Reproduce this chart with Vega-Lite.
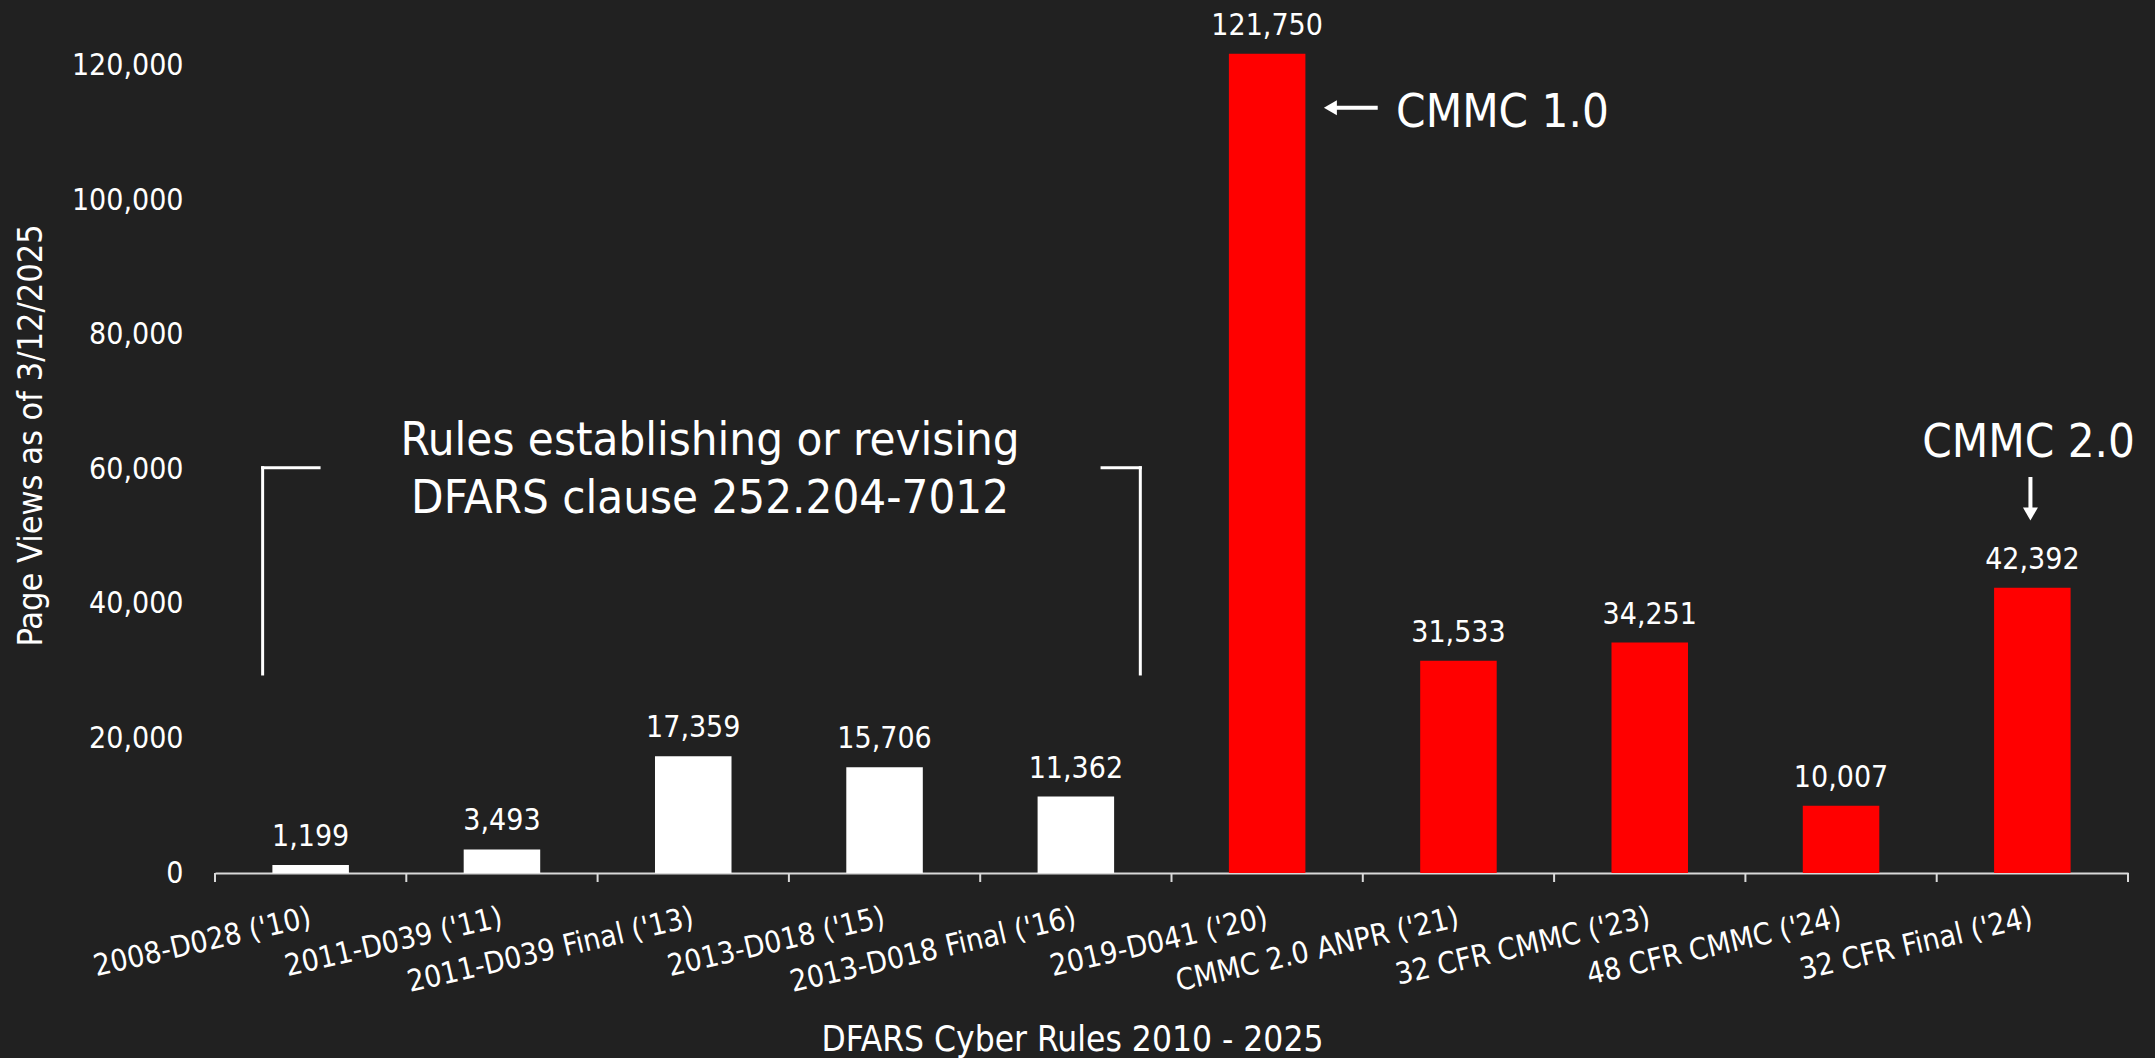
{
  "$schema": "https://vega.github.io/schema/vega-lite/v6.json",
  "width": 1913,
  "height": 841,
  "autosize": {"type": "none"},
  "padding": {"left": 215, "top": 32, "right": 27, "bottom": 185},
  "background": "#212121",
  "config": {"view": {"stroke": null}, "font": "DejaVu Sans Condensed, DejaVu Sans"},
  "datasets": {
    "bars": [
      {"rule": "2008-D028 ('10)", "views": 1199, "group": "DFARS"},
      {"rule": "2011-D039 ('11)", "views": 3493, "group": "DFARS"},
      {"rule": "2011-D039 Final ('13)", "views": 17359, "group": "DFARS"},
      {"rule": "2013-D018 ('15)", "views": 15706, "group": "DFARS"},
      {"rule": "2013-D018 Final ('16)", "views": 11362, "group": "DFARS"},
      {"rule": "2019-D041 ('20)", "views": 121750, "group": "CMMC"},
      {"rule": "CMMC 2.0 ANPR ('21)", "views": 31533, "group": "CMMC"},
      {"rule": "32 CFR CMMC ('23)", "views": 34251, "group": "CMMC"},
      {"rule": "48 CFR CMMC ('24)", "views": 10007, "group": "CMMC"},
      {"rule": "32 CFR Final ('24)", "views": 42392, "group": "CMMC"}
    ],
    "ticks": [
      {"x": 0}, {"x": 1}, {"x": 2}, {"x": 3}, {"x": 4}, {"x": 5},
      {"x": 6}, {"x": 7}, {"x": 8}, {"x": 9}, {"x": 10}
    ],
    "bracket": [
      {"x": 0.249, "x2": 0.249, "y": 29580, "y2": 60240},
      {"x": 0.249, "x2": 0.544, "y": 60240, "y2": 60240},
      {"x": 4.637, "x2": 4.837, "y": 60240, "y2": 60240},
      {"x": 4.837, "x2": 4.837, "y": 29580, "y2": 60240}
    ],
    "arrows": [
      {"x": 5.84, "x2": 6.078, "y": 113750, "y2": 113750},
      {"x": 9.49, "x2": 9.49, "y": 53650, "y2": 58860}
    ],
    "heads": [
      {"x": 5.8306, "y": 113750, "dir": "left"},
      {"x": 9.49, "y": 53359, "dir": "down"}
    ],
    "notes": [
      {"x": 6.73, "y": 110880, "note": "CMMC 1.0"},
      {"x": 9.48, "y": 61830, "note": "CMMC 2.0"},
      {"x": 2.588, "y": 62130, "note": "Rules establishing or revising\nDFARS clause 252.204-7012"}
    ]
  },
  "resolve": {"scale": {"x": "independent"}, "axis": {"x": "independent", "y": "independent"}},
  "layer": [
    {
      "data": {"name": "bars"},
      "mark": {"type": "bar"},
      "encoding": {
        "x": {
          "field": "rule", "type": "nominal", "sort": null,
          "scale": {"paddingInner": 0.6, "paddingOuter": 0.3},
          "axis": {
            "title": "DFARS Cyber Rules 2010 - 2025",
            "titleFontSize": 35, "titleFontWeight": "normal", "titleColor": "#ffffff",
            "titleX": 857, "titleY": 177, "titleAlign": "center", "titleBaseline": "alphabetic",
            "labelAngle": -13, "labelAlign": "right", "labelBaseline": "middle",
            "labelPadding": 44, "labelFontSize": 30, "labelColor": "#ffffff",
            "labelLimit": 0, "labelOverlap": false, "labelFlush": false,
            "domainColor": "#d9d9d9", "domainWidth": 2,
            "ticks": false,
            "grid": false
          }
        },
        "y": {
          "field": "views", "type": "quantitative",
          "scale": {"domain": [0, 125000], "nice": false},
          "axis": {
            "title": "Page Views as of 3/12/2025",
            "titleFontSize": 34, "titleFontWeight": "normal", "titleColor": "#ffffff",
            "titleX": -184, "titleY": 403, "titleAlign": "center", "titleBaseline": "middle", "titleAngle": -90,
            "values": [0, 20000, 40000, 60000, 80000, 100000, 120000],
            "format": ",d", "labelFontSize": 30, "labelColor": "#ffffff", "labelPadding": 32,
            "ticks": false, "domain": false, "grid": false
          }
        },
        "color": {
          "field": "group", "type": "nominal",
          "scale": {"domain": ["DFARS", "CMMC"], "range": ["#ffffff", "#ff0000"]},
          "legend": null
        }
      }
    },
    {
      "data": {"name": "bars"},
      "mark": {"type": "text", "baseline": "alphabetic", "align": "center", "dy": -19, "fontSize": 30, "color": "#ffffff"},
      "encoding": {
        "x": {"field": "rule", "type": "nominal", "sort": null, "scale": {"paddingInner": 0.6, "paddingOuter": 0.3}, "axis": null},
        "y": {"field": "views", "type": "quantitative", "scale": {"domain": [0, 125000], "nice": false}, "axis": null},
        "text": {"field": "views", "type": "quantitative", "format": ",d"}
      }
    },
    {
      "data": {"name": "ticks"},
      "mark": {"type": "rule", "color": "#d9d9d9", "strokeWidth": 2},
      "encoding": {
        "x": {"field": "x", "type": "quantitative", "scale": {"domain": [0, 10], "nice": false, "zero": false}, "axis": null},
        "y": {"datum": 0, "type": "quantitative", "scale": {"domain": [0, 125000], "nice": false}, "axis": null},
        "y2": {"datum": -1338}
      }
    },
    {
      "data": {"name": "bracket"},
      "mark": {"type": "rule", "color": "#ffffff", "strokeWidth": 3, "strokeCap": "square"},
      "encoding": {
        "x": {"field": "x", "type": "quantitative", "scale": {"domain": [0, 10], "nice": false, "zero": false}, "axis": null},
        "x2": {"field": "x2"},
        "y": {"field": "y", "type": "quantitative", "scale": {"domain": [0, 125000], "nice": false}, "axis": null},
        "y2": {"field": "y2"}
      }
    },
    {
      "data": {"name": "arrows"},
      "mark": {"type": "rule", "color": "#ffffff", "strokeWidth": 4},
      "encoding": {
        "x": {"field": "x", "type": "quantitative", "scale": {"domain": [0, 10], "nice": false, "zero": false}, "axis": null},
        "x2": {"field": "x2"},
        "y": {"field": "y", "type": "quantitative", "scale": {"domain": [0, 125000], "nice": false}, "axis": null},
        "y2": {"field": "y2"}
      }
    },
    {
      "data": {"name": "heads"},
      "mark": {"type": "point", "filled": true, "color": "#ffffff", "opacity": 1, "size": 225},
      "encoding": {
        "x": {"field": "x", "type": "quantitative", "scale": {"domain": [0, 10], "nice": false, "zero": false}, "axis": null},
        "y": {"field": "y", "type": "quantitative", "scale": {"domain": [0, 125000], "nice": false}, "axis": null},
        "shape": {"field": "dir", "type": "nominal", "scale": {"domain": ["left", "down"], "range": ["triangle-left", "triangle-down"]}, "legend": null}
      }
    },
    {
      "data": {"name": "notes"},
      "mark": {"type": "text", "align": "center", "baseline": "alphabetic", "fontSize": 47, "color": "#ffffff", "lineBreak": "\n", "lineHeight": 58},
      "encoding": {
        "x": {"field": "x", "type": "quantitative", "scale": {"domain": [0, 10], "nice": false, "zero": false}, "axis": null},
        "y": {"field": "y", "type": "quantitative", "scale": {"domain": [0, 125000], "nice": false}, "axis": null},
        "text": {"field": "note", "type": "nominal"}
      }
    }
  ]
}
